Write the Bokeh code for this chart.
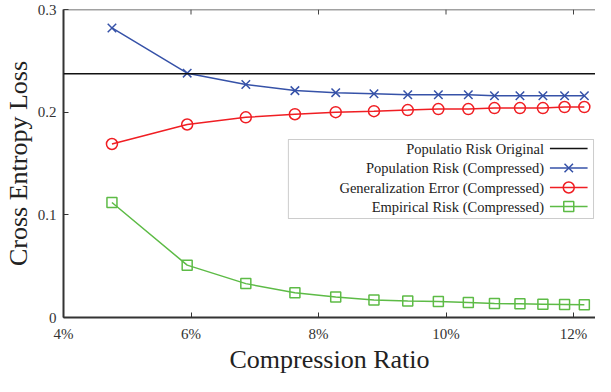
from bokeh.plotting import figure
from bokeh.models import (FixedTicker, CustomJSTickFormatter, Range1d, Span, BoxAnnotation)
from bokeh.core.properties import value
from bokeh.embed import file_html
from bokeh.resources import INLINE

# ---- data ----
compression_ratio = [4.76, 5.94, 6.86, 7.63, 8.27, 8.87, 9.40, 9.88, 10.35, 10.76, 11.16, 11.52, 11.86, 12.17]
population_risk = [0.282, 0.238, 0.227, 0.221, 0.219, 0.218, 0.217, 0.217, 0.217, 0.216, 0.216, 0.216, 0.216, 0.216]
generalization_error = [0.169, 0.188, 0.195, 0.198, 0.200, 0.201, 0.202, 0.203, 0.203, 0.204, 0.204, 0.204, 0.205, 0.205]
empirical_risk = [0.112, 0.051, 0.033, 0.024, 0.020, 0.017, 0.016, 0.0155, 0.0146, 0.0136, 0.0133, 0.013, 0.0127, 0.0123]
original_population_risk = 0.2373

x_ticks = [4, 6, 8, 10, 12]
y_ticks = [0, 0.1, 0.2, 0.3]
legend_labels = ["Populatio Risk Original", "Population Risk (Compressed)",
                 "Generalization Error (Compressed)", "Empirical Risk (Compressed)"]
x_title = "Compression Ratio"
y_title = "Cross Entropy Loss"

# ---- style ----
FONT = "Liberation Serif"
BLUE = "#3652A8"
RED = "#F01E23"
GREEN = "#5DBB46"
BLACK = "#111111"
AXIS = "#333333"

X0, X1 = 4.0, 12.345
Y0, Y1 = 0.0, 0.3

W, H = 595, 376
BT, BB, BL = 9, 59, 58          # borders (figure px)
p = figure(width=W, height=H, output_backend="svg", toolbar_location=None,
           x_range=Range1d(X0, X1), y_range=Range1d(Y0, Y1),
           min_border_left=BL, min_border_right=0, min_border_top=BT, min_border_bottom=BB)
p.outline_line_color = None
p.xgrid.visible = False
p.ygrid.visible = False
p.background_fill_color = "white"
p.border_fill_color = "white"

# page-pixel -> data helpers for decorations (frame edges in page pixels)
FL, FR, FT, FB = 8 + BL, 8 + W, 8 + BT, 8 + H - BB
def dx(px):
    return X0 + (px - FL) / (FR - FL) * (X1 - X0)
def dy(py):
    return Y0 + (FB - py) / (FB - FT) * (Y1 - Y0)

# axes
xa = p.xaxis[0]
xa.ticker = FixedTicker(ticks=x_ticks)
xa.formatter = CustomJSTickFormatter(code="return tick.toFixed(0) + '%';")
ya = p.yaxis[0]
ya.ticker = FixedTicker(ticks=y_ticks)
ya.formatter = CustomJSTickFormatter(code="return tick == 0 ? '0' : tick.toFixed(1);")
for ax in (xa, ya):
    ax.major_tick_in = 5
    ax.major_tick_out = 0
    ax.minor_tick_line_color = None
    ax.axis_line_width = 2
    ax.axis_line_color = AXIS
    ax.major_tick_line_color = AXIS
    ax.major_label_text_font = FONT
    ax.major_label_text_font_size = "15px"
    ax.major_label_text_font_style = "normal"
    ax.major_label_text_color = "#333333"
    ax.axis_label_text_font = FONT
    ax.axis_label_text_font_size = "26px"
    ax.axis_label_text_font_style = "normal"
    ax.axis_label_text_color = "#222222"
xa.axis_label = x_title
ya.axis_label = y_title
xa.major_label_standoff = 8
xa.axis_label_standoff = 0
ya.major_label_standoff = 7
ya.axis_label_standoff = 2

# top frame line with inward ticks
p.add_layout(Span(location=Y1, dimension="width", line_color="#444444", line_width=1.5))
p.segment(x0=x_ticks, x1=x_ticks, y0=[Y1] * len(x_ticks),
          y1=[Y1 - (dy(FT) - dy(FT + 5))] * len(x_ticks), line_color="#444444", line_width=1)

# horizontal line for original model
p.add_layout(Span(location=original_population_risk, dimension="width",
                  line_color=BLACK, line_width=1.5))

# series
p.line(compression_ratio, population_risk, line_color=BLUE, line_width=1.5)
p.scatter(compression_ratio, population_risk, marker="x", size=12, line_color=BLUE, line_width=1.5)
p.line(compression_ratio, generalization_error, line_color=RED, line_width=1.5)
p.scatter(compression_ratio, generalization_error, marker="circle", size=11, fill_color=None,
          line_color=RED, line_width=1.5)
p.line(compression_ratio, empirical_risk, line_color=GREEN, line_width=1.5)
p.scatter(compression_ratio, empirical_risk, marker="square", size=10, fill_color=None,
          line_color=GREEN, line_width=1.5)

# ---- legend (text first, sample after, as in the reference) ----
p.add_layout(BoxAnnotation(left=dx(293), right=dx(601), top=dy(147), bottom=dy(226),
                           fill_color="white", fill_alpha=1.0, line_color="#555555",
                           line_width=1, level="underlay"))
rows = [dy(156), dy(175.5), dy(195), dy(214)]
colors = [BLACK, BLUE, RED, GREEN]
markers = [None, "x", "circle", "square"]
sizes = [0, 12, 11, 10]
p.text(x=[dx(551)] * 4, y=rows, text=legend_labels, text_align="right", text_baseline="middle",
       text_font=value(FONT), text_font_size="14.5px", text_color="#222222")
for yv, c, m, s in zip(rows, colors, markers, sizes):
    p.segment(x0=[dx(557)], x1=[dx(595)], y0=[yv], y1=[yv], line_color=c, line_width=1.5)
    if m is not None:
        p.scatter([dx(576)], [yv], marker=m, size=s, fill_color=None, line_color=c, line_width=1.5)

open("out.html", "w").write(file_html(p, INLINE))
